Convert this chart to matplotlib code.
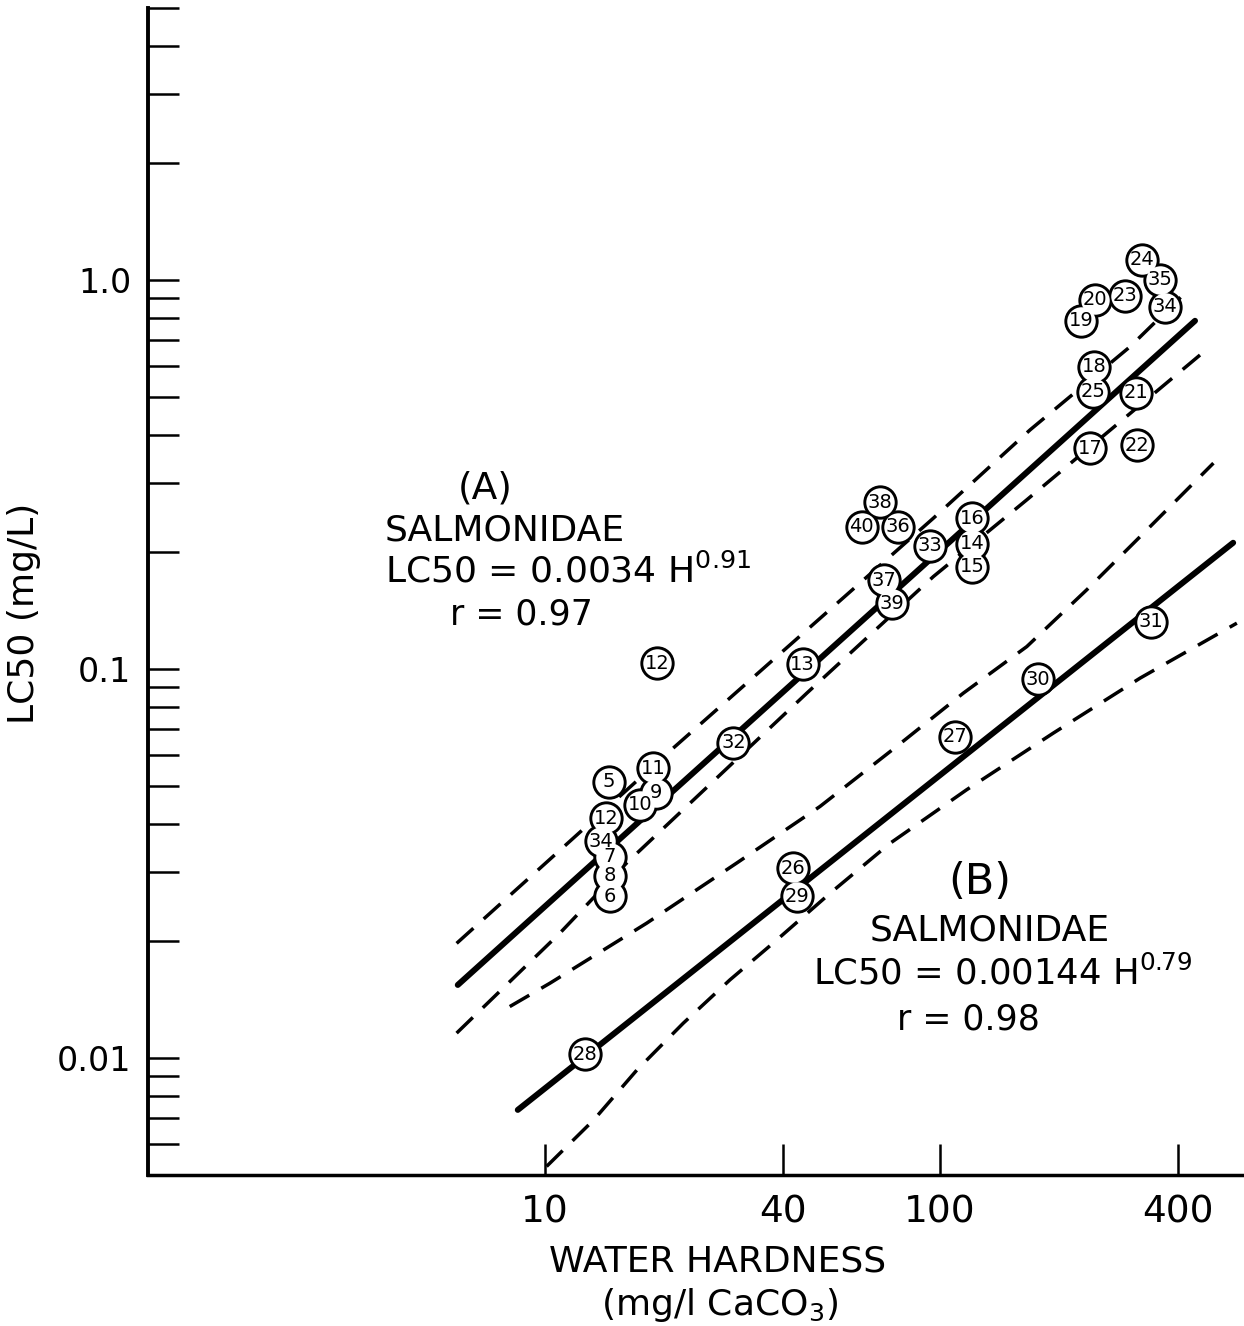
import matplotlib
matplotlib.use("Agg")
import matplotlib.pyplot as plt
from matplotlib.ticker import LogLocator, NullLocator, NullFormatter

plt.rcParams['font.family'] = ['DejaVu Sans']
plt.rcParams['mathtext.fontset'] = 'dejavusans'

# circled data points: label, water hardness (mg/l CaCO3), LC50 (mg/L)
point_labels = ["24", "35", "23", "20", "19", "34", "18", "25", "21", "17", "22",
                "38", "40", "36", "33", "16", "14", "15", "37", "39",
                "12", "13", "32", "5", "11", "9", "10", "12", "34", "7", "8", "6",
                "26", "29", "27", "30", "31", "28"]
hardness = [324, 360, 294, 247, 228, 371, 245, 244, 313, 240, 315,
            70.5, 63.4, 78.4, 94.3, 120.5, 120.5, 120.5, 72.1, 75.4,
            19.2, 44.9, 30.0, 14.5, 18.8, 19.1, 17.4, 14.3, 13.9, 14.6, 14.6, 14.6,
            42.5, 43.4, 109, 177, 342, 12.6]
lc50 = [1.126, 1.0, 0.910, 0.888, 0.786, 0.854, 0.598, 0.516, 0.513, 0.369, 0.376,
        0.268, 0.232, 0.232, 0.207, 0.244, 0.210, 0.183, 0.169, 0.1475,
        0.1034, 0.1028, 0.0646, 0.0513, 0.0556, 0.0481, 0.0447, 0.0413, 0.0360,
        0.0329, 0.0294, 0.0260,
        0.0307, 0.0260, 0.0670, 0.0941, 0.1323, 0.01022]

# regression lines (A) and (B)
fit_a_h = [6.02, 442]
fit_a_lc50 = [0.0154, 0.785]
fit_b_h = [8.54, 552]
fit_b_lc50 = [0.00735, 0.211]

# confidence bands (dashed)
upper_a_h = [5.98, 21.1, 96.2, 169, 303, 425]
upper_a_lc50 = [0.0197, 0.0625, 0.244, 0.4115, 0.674, 0.943]
lower_a_h = [5.98, 10.9, 16.1, 46.0, 96.2, 165.8, 455]
lower_a_lc50 = [0.01158, 0.0209, 0.0317, 0.0866, 0.1727, 0.272, 0.641]
upper_b_h = [8.15, 10.3, 18.1, 30.6, 49.7, 77.7, 114.5, 165.8, 235, 321, 492]
upper_b_lc50 = [0.01355, 0.01556, 0.0222, 0.0317, 0.0443, 0.0632, 0.0866,
                0.1141, 0.1596, 0.2188, 0.338]
lower_b_h = [10.1, 13.3, 17.1, 22.4, 29.4, 37.8, 52.7, 74.7, 116.8, 193.6, 321, 564]
lower_b_lc50 = [0.00526, 0.00693, 0.00931, 0.01228, 0.01587, 0.01972, 0.0265,
                0.0356, 0.0489, 0.0684, 0.0947, 0.1311]

x_ticks = [10, 40, 100, 400]
x_tick_labels = ["10", "40", "100", "400"]
y_ticks = [0.01, 0.1, 1.0]
y_tick_labels = ["0.01", "0.1", "1.0"]

fig = plt.figure(figsize=(12.44, 13.26), dpi=100)
ax = fig.add_axes([148 / 1244, 151 / 1326, 1096 / 1244, 1167 / 1326])
ax.set_xscale("log")
ax.set_yscale("log")
ax.set_xlim(0.99, 588)
ax.set_ylim(0.005, 5)

ax.spines[["top", "right"]].set_visible(False)
ax.spines["left"].set_linewidth(2.8)
ax.spines["bottom"].set_linewidth(2.5)

ax.set_xticks(x_ticks, labels=x_tick_labels)
ax.xaxis.set_minor_locator(NullLocator())
ax.set_yticks(y_ticks, labels=y_tick_labels)
ax.yaxis.set_minor_locator(LogLocator(base=10, subs=range(2, 10)))
ax.yaxis.set_minor_formatter(NullFormatter())
ax.tick_params(axis="both", which="both", direction="in", length=22, width=1.8)
ax.tick_params(axis="x", labelsize=27, pad=14)
ax.tick_params(axis="y", labelsize=24, pad=12)

# lines
for h, v in [(fit_a_h, fit_a_lc50), (fit_b_h, fit_b_lc50)]:
    ax.plot(h, v, color="black", lw=4.3, solid_capstyle="round", zorder=2)
for h, v in [(upper_a_h, upper_a_lc50), (lower_a_h, lower_a_lc50),
             (upper_b_h, upper_b_lc50), (lower_b_h, lower_b_lc50)]:
    ax.plot(h, v, color="black", lw=2.5, dashes=(6.5, 4), zorder=2)

# circled numbers (outline first, then white fill so touching circles merge)
ax.scatter(hardness, lc50, s=610, c="black", linewidths=0, zorder=3)
ax.scatter(hardness, lc50, s=420, c="white", linewidths=0, zorder=4)
for lab, h, v in zip(point_labels, hardness, lc50):
    ax.text(h, v, lab, ha="center", va="center", fontsize=14,
            family=["Liberation Sans Narrow", "DejaVu Sans"], zorder=5)

# equations
ax.text(6.02, 0.2735, "(A)", fontsize=27, ha="left", va="baseline")
ax.text(3.94, 0.2133, "SALMONIDAE", fontsize=26, ha="left", va="baseline")
ax.text(3.94, 0.1664, "LC50 = 0.0034 H$^{0.91}$", fontsize=26, ha="left", va="baseline")
ax.text(5.75, 0.1297, "r = 0.97", fontsize=25, ha="left", va="baseline")

ax.text(104.8, 0.02639, "(B)", fontsize=31, ha="left", va="baseline")
ax.text(66.5, 0.01999, "SALMONIDAE", fontsize=26, ha="left", va="baseline")
ax.text(47.7, 0.01540, "LC50 = 0.00144 H$^{0.79}$", fontsize=25.5, ha="left", va="baseline")
ax.text(77.8, 0.0118, "r = 0.98", fontsize=25, ha="left", va="baseline")

# axis titles
fig.text(24 / 1244, 1 - 613 / 1326, "LC50 (mg/L)", rotation=90, fontsize=26,
         ha="center", va="center")
fig.text(718 / 1244, 1 - 1262 / 1326, "WATER HARDNESS", fontsize=26,
         ha="center", va="center")
fig.text(720 / 1244, 1 - 1305 / 1326, "(mg/l CaCO$_3$)", fontsize=26,
         ha="center", va="center")

fig.savefig("out.png", dpi=100)
